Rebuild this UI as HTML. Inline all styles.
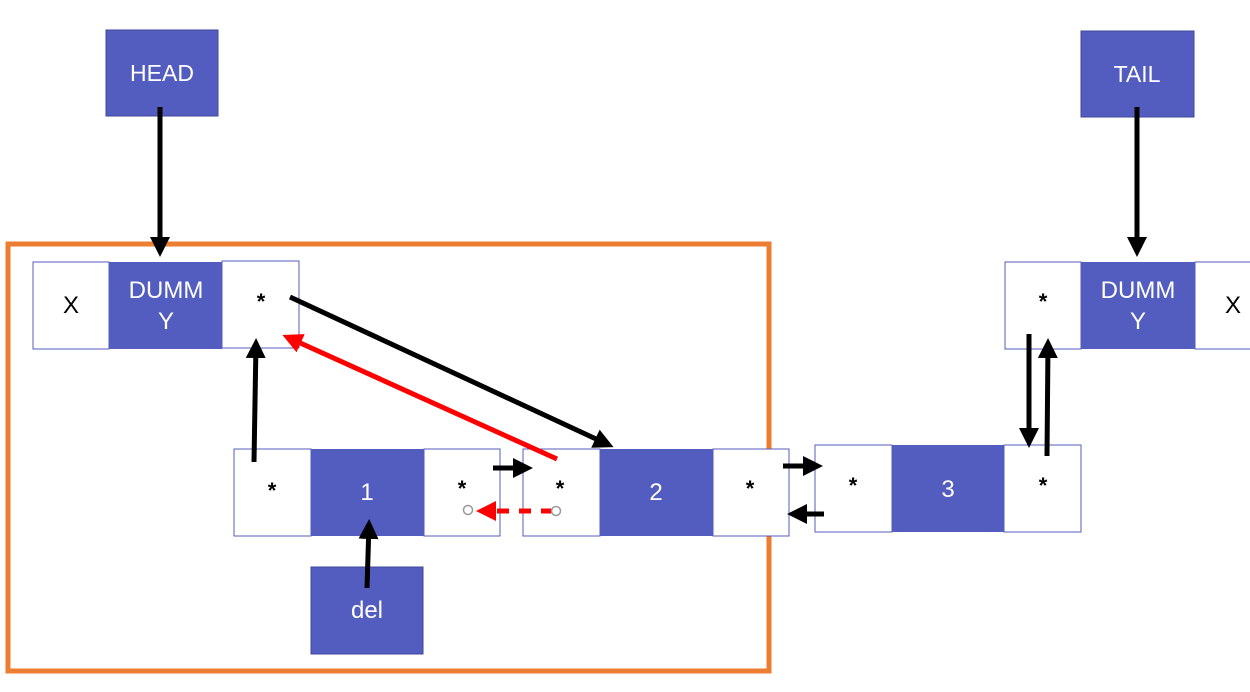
<!DOCTYPE html>
<html><head><meta charset="utf-8"><style>
html,body{margin:0;padding:0;background:#fff;}
svg{display:block;font-family:"Liberation Sans","Noto Sans CJK SC",sans-serif;}
.s{font-size:22px;font-weight:bold;}
</style></head><body>
<svg width="1250" height="692" viewBox="0 0 1250 692">
<defs>
<marker id="ab" markerWidth="4" markerHeight="4" refX="3" refY="2" orient="auto" markerUnits="strokeWidth"><path d="M0,0 L4,2 L0,4 z" fill="#000"/></marker>
<marker id="ar" markerWidth="4" markerHeight="4" refX="3" refY="2" orient="auto" markerUnits="strokeWidth"><path d="M0,0 L4,2 L0,4 z" fill="#f00"/></marker>
</defs>
<rect x="8" y="244" width="761" height="427" fill="none" stroke="#ED7D31" stroke-width="5"/>

<g><rect x="106" y="30" width="112" height="86" fill="#535DBF" stroke="#3f479a"/><text x="162" y="81" fill="#fff" font-size="23" text-anchor="middle">HEAD</text></g>
<g><rect x="1081" y="31" width="113" height="86" fill="#535DBF" stroke="#3f479a"/><text x="1137" y="82" fill="#fff" font-size="23" text-anchor="middle">TAIL</text></g>

<g>
<rect x="33" y="262" width="76" height="87" fill="#fff" stroke="#535DBF"/>
<rect x="109" y="262" width="113" height="87" fill="#535DBF"/>
<rect x="222" y="261" width="77" height="87" fill="#fff" stroke="#535DBF"/>
<text x="71" y="313" font-size="24" text-anchor="middle">X</text>
<text x="166" y="298" fill="#fff" font-size="24" text-anchor="middle">DUMM</text>
<text x="166" y="329" fill="#fff" font-size="24" text-anchor="middle">Y</text>
<text x="261" y="309" class="s" text-anchor="middle">*</text>
</g>
<g>
<rect x="1005" y="262" width="76" height="87" fill="#fff" stroke="#535DBF"/>
<rect x="1081" y="262" width="114" height="87" fill="#535DBF"/>
<rect x="1195" y="262" width="60" height="87" fill="#fff" stroke="#535DBF"/>
<text x="1043" y="309" class="s" text-anchor="middle">*</text>
<text x="1138" y="298" fill="#fff" font-size="24" text-anchor="middle">DUMM</text>
<text x="1138" y="329" fill="#fff" font-size="24" text-anchor="middle">Y</text>
<text x="1233" y="313" font-size="24" text-anchor="middle">X</text>
</g>
<g>
<rect x="234" y="449" width="77" height="87" fill="#fff" stroke="#535DBF"/>
<rect x="311" y="449" width="113" height="87" fill="#535DBF"/>
<rect x="424" y="449" width="76" height="87" fill="#fff" stroke="#535DBF"/>
<text x="272" y="498" class="s" text-anchor="middle">*</text>
<text x="367" y="500" fill="#fff" font-size="24" text-anchor="middle">1</text>
<text x="462" y="496" class="s" text-anchor="middle">*</text>
</g>
<g>
<rect x="523" y="449" width="77" height="87" fill="#fff" stroke="#535DBF"/>
<rect x="600" y="449" width="113" height="87" fill="#535DBF"/>
<rect x="713" y="449" width="76" height="87" fill="#fff" stroke="#535DBF"/>
<text x="560" y="496" class="s" text-anchor="middle">*</text>
<text x="656" y="500" fill="#fff" font-size="24" text-anchor="middle">2</text>
<text x="750" y="496" class="s" text-anchor="middle">*</text>
</g>
<g>
<rect x="815" y="445" width="77" height="87" fill="#fff" stroke="#535DBF"/>
<rect x="892" y="445" width="112" height="87" fill="#535DBF"/>
<rect x="1004" y="445" width="77" height="87" fill="#fff" stroke="#535DBF"/>
<text x="853" y="493" class="s" text-anchor="middle">*</text>
<text x="948" y="497" fill="#fff" font-size="24" text-anchor="middle">3</text>
<text x="1043" y="493" class="s" text-anchor="middle">*</text>
</g>
<g><rect x="311" y="567" width="112" height="87" fill="#535DBF" stroke="#3f479a"/><text x="367" y="618" fill="#fff" font-size="24" text-anchor="middle">del</text></g>

<g stroke="#000" stroke-width="5" fill="none">
<line x1="160" y1="107" x2="160" y2="252" marker-end="url(#ab)"/>
<line x1="1137" y1="107" x2="1137" y2="252" marker-end="url(#ab)"/>
<line x1="290" y1="297" x2="609" y2="445" marker-end="url(#ab)"/>
<line x1="254" y1="462" x2="256" y2="343" marker-end="url(#ab)"/>
<line x1="367" y1="588" x2="369" y2="524" marker-end="url(#ab)"/>
<line x1="493" y1="468" x2="528" y2="468" marker-end="url(#ab)"/>
<line x1="783" y1="466" x2="818" y2="466" marker-end="url(#ab)"/>
<line x1="824" y1="514" x2="792" y2="514" marker-end="url(#ab)"/>
<line x1="1029" y1="334" x2="1029" y2="443" marker-end="url(#ab)"/>
<line x1="1047" y1="456" x2="1048" y2="343" marker-end="url(#ab)"/>
</g>
<line x1="557" y1="459" x2="287" y2="337" stroke="#f00" stroke-width="5" marker-end="url(#ar)"/>
<line x1="553" y1="511" x2="481" y2="511" stroke="#f00" stroke-width="5" stroke-dasharray="12,10" marker-end="url(#ar)"/>
<circle cx="468" cy="510" r="4.5" fill="#fff" stroke="#999" stroke-width="1.5"/>
<circle cx="556" cy="511" r="4.5" fill="#fff" stroke="#999" stroke-width="1.5"/>
</svg>
</body></html>
